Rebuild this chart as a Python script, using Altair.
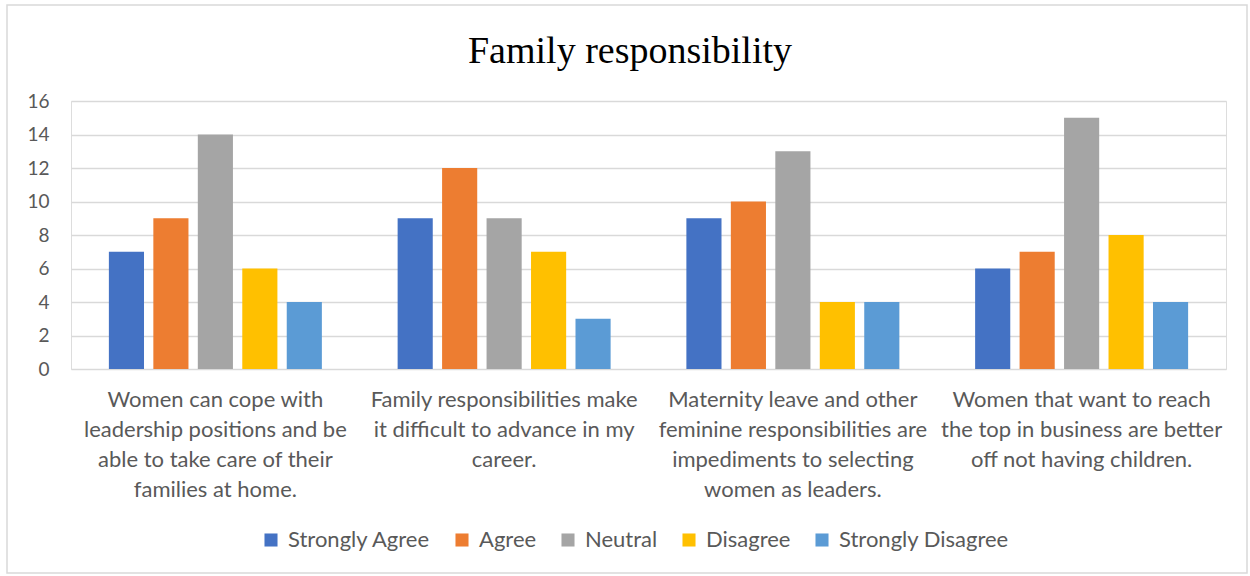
import altair as alt
import pandas as pd

title_text = "Family responsibility"
categories = [
    "Women can cope with|leadership positions and be|able to take care of their|families at home.",
    "Family responsibilities make|it difficult to advance in my|career.",
    "Maternity leave and other|feminine responsibilities are|impediments to selecting|women as leaders.",
    "Women that want to reach|the top in business are better|off not having children.",
]
series = ["Strongly Agree", "Agree", "Neutral", "Disagree", "Strongly Disagree"]
colors = ["#4472C4", "#ED7D31", "#A5A5A5", "#FFC000", "#5B9BD5"]
strongly_agree = [7, 9, 9, 6]
agree = [9, 12, 10, 7]
neutral = [14, 9, 13, 15]
disagree = [6, 7, 4, 8]
strongly_disagree = [4, 3, 4, 4]

values = [strongly_agree, agree, neutral, disagree, strongly_disagree]
rows = []
for s, vals in zip(series, values):
    for c, v in zip(categories, vals):
        rows.append({"category": c, "series": s, "value": v})
df = pd.DataFrame(rows)

FONT = "Lato"
GRAY = "#595959"

bars = alt.Chart(df).mark_bar().encode(
    x=alt.X("category:N", sort=categories,
            scale=alt.Scale(paddingInner=0.23, paddingOuter=0.115),
            axis=alt.Axis(title=None, labelAngle=0, labelExpr="split(datum.label, '|')",
                          labelFont=FONT, labelFontSize=22, labelColor=GRAY,
                          labelLineHeight=30, labelPadding=20, ticks=False,
                          domain=False, labelLimit=400)),
    xOffset=alt.XOffset("series:N", sort=series,
                        scale=alt.Scale(paddingInner=0.21, paddingOuter=0.105)),
    y=alt.Y("value:Q", scale=alt.Scale(domain=[0, 16]),
            axis=alt.Axis(title=None, values=list(range(0, 17, 2)), ticks=False, domain=False,
                          labelFont=FONT, labelFontSize=19, labelColor=GRAY, labelPadding=22,
                          gridColor="#D9D9D9", gridWidth=1.5)),
    color=alt.Color("series:N", sort=series,
                    scale=alt.Scale(domain=series, range=colors),
                    legend=alt.Legend(title=None, orient="none", direction="horizontal",
                                      columns=5, legendX=189, legendY=428,
                                      symbolType="square", symbolSize=170,
                                      symbolStrokeWidth=0, labelLimit=300,
                                      labelFont=FONT, labelFontSize=22, labelColor=GRAY,
                                      columnPadding=20, labelOffset=6)),
)

frame = alt.Chart(pd.DataFrame({"a": [0]})).mark_rect(
    fill=None, stroke="#D9D9D9", strokeWidth=1.5
).encode(x=alt.value(-64), x2=alt.value(1176), y=alt.value(-96), y2=alt.value(472))

title = alt.Chart(pd.DataFrame({"t": [title_text]})).mark_text(
    font="Liberation Serif", fontSize=38, color="#000000", align="center",
    baseline="alphabetic"
).encode(text="t:N", x=alt.value(559), y=alt.value(-38))

chart = alt.layer(frame, bars, title).properties(
    width=1155, height=268,
    autosize=alt.AutoSizeParams(type="none"),
    padding={"left": 71, "top": 101, "right": 24, "bottom": 207},
).configure_view(stroke=None).configure(background="white")

chart.save("out.html", embed_options={"renderer": "svg", "actions": False})
